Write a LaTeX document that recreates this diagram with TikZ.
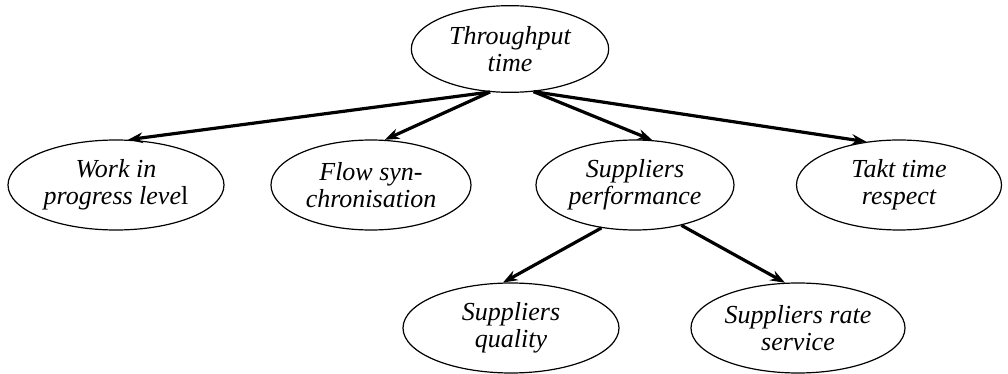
\documentclass[tikz,border=0pt]{standalone}
\usepackage{fontspec}
\setmainfont{Liberation Serif}
\usetikzlibrary{shapes.geometric,arrows.meta}

\tikzset{
  goal/.style={ellipse,draw,line width=0.9pt,inner sep=0pt,align=center,
    minimum width=162pt,minimum height=67.5pt,
    font=\fontsize{19.5}{20.5}\selectfont\itshape},
  link/.style={line width=2.4pt,-{Stealth[length=11pt,width=8pt]}}
}

\begin{document}
\begin{tikzpicture}[x=0.75pt,y=-0.75pt]
  \useasboundingbox (0,0) rectangle (1008,374);
  \node[goal,minimum width=148pt,minimum height=65pt] (tt) at (510,49) {Throughput\\time};
  \node[goal] (wip) at (116,185) {Work in\\progress leve\textup{l}};
  \node[goal,minimum width=150pt] (fs) at (371,185) {Flow syn-\\chronisation};
  \node[goal,minimum width=148.5pt] (sp) at (635,185) {Suppliers\\performance};
  \node[goal,minimum width=153.75pt] (takt) at (899,185) {Takt time\\respect};
  \node[goal] (sq) at (511,328) {Suppliers\\quality};
  \node[goal,minimum width=160.5pt] (srs) at (798,328) {Suppliers rate\\service};

  \draw[link] (tt.245) -- (wip.75);
  \draw[link] (tt.245) -- (fs.73);
  \draw[link] (tt.299) -- (sp.69);
  \draw[link] (tt.299) -- (takt.127);
  % lower level
  \draw[link] (sp.232) -- (sq.100);
  \draw[link] (sp.319) -- (srs.106);
\end{tikzpicture}
\end{document}
